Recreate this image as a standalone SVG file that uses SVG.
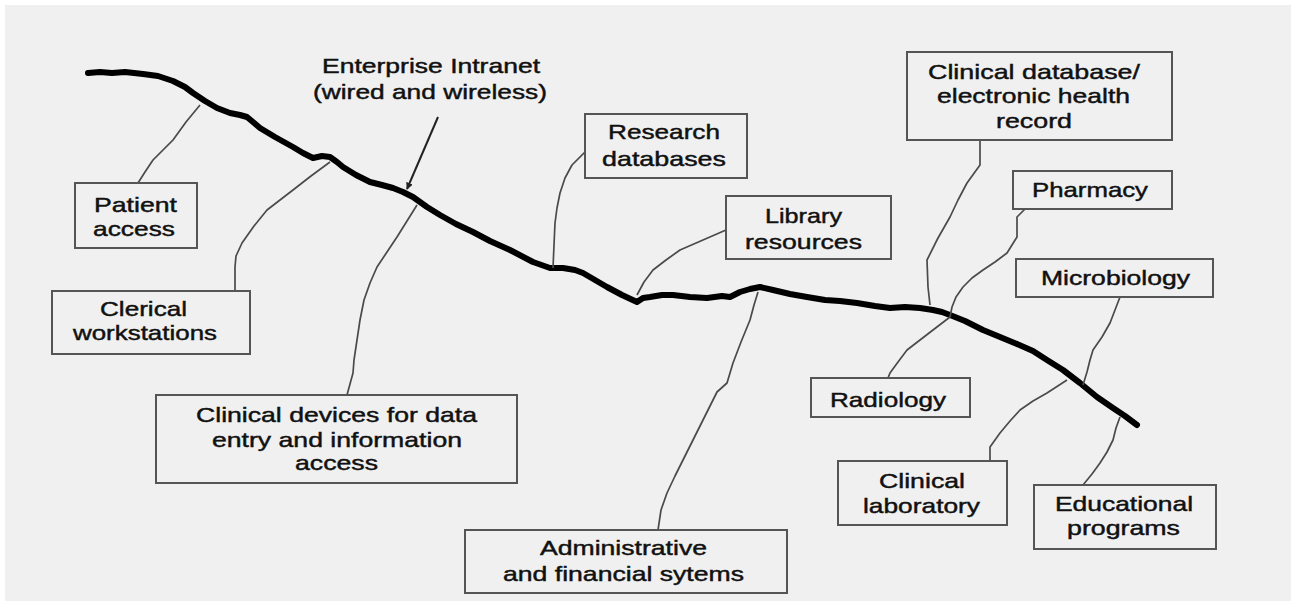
<svg xmlns="http://www.w3.org/2000/svg" width="1295" height="603" viewBox="0 0 1295 603">
  <defs>
    <style>
      .bg { fill: #f0f0f0; }
      .box { fill: #f0f0f0; stroke: #555; stroke-width: 2; }
      .lbl { font-family: "Liberation Sans", Arial, sans-serif; font-size: 21px; fill: #111; stroke: #111; stroke-width: 0.45; text-anchor: middle; }
      .backbone { fill: none; stroke: #000; stroke-width: 6; stroke-linejoin: round; stroke-linecap: round; }
      .link { fill: none; stroke: #4a4a4a; stroke-width: 1.7; stroke-linejoin: round; }
      .pointer { fill: none; stroke: #222; stroke-width: 2; }
    </style>
    <marker id="arrowhead" viewBox="0 0 10 10" refX="9" refY="5" markerWidth="7" markerHeight="7" orient="auto-start-reverse" markerUnits="userSpaceOnUse">
      <path d="M0,0 L10,5 L0,10 z" fill="#222"/>
    </marker>
  </defs>

  <rect width="1295" height="603" fill="#ffffff"/>
  <rect class="bg" x="5" y="5" width="1286" height="596"/>

  <!-- network backbone -->
  <g id="backbone">
    <polyline class="backbone" points="88,73 100,72 112,73 125,72 143,74 158,76 173,81 185,87 193,93 205,101 217,108 230,113 240,115 247,117 253,122 260,128 275,137 293,147 303,153 313,158 322,156 330,157 337,162 343,167 356,175 370,182 382,185 393,188 403,192 413,197 427,207 440,215 456,224 473,232 490,241 510,250 533,262 550,268 563,268 575,270 583,273 595,280 607,287 622,295 637,302 643,298 650,297 662,295 673,295 690,297 707,298 722,296 730,297 740,292 750,289 760,287 773,290 790,294 807,297 825,300 840,301 857,303 875,306 890,308 905,307 920,308 933,310 942,312 950,315 965,321 983,330 1000,337 1017,344 1033,351 1047,360 1063,370 1080,383 1097,397 1113,408 1125,416 1137,425"/>
  </g>

  <!-- connectors from backbone to each service -->
  <g id="connectors">
    <polyline class="link" points="200,105 186,122 173,140 163,150 153,160 145,172 138,183"/>
    <polyline class="link" points="330,162 311,176 293,190 280,200 267,210 254,226 242,243 236,256 235,267 235,291"/>
    <polyline class="link" points="417,205 407,221 397,237 387,252 377,267 370,283 364,300 360,320 357,340 354,360 353,373 350,384 347,395"/>
    <polyline class="link" points="585,152 572,165 565,178 560,193 557,208 555,223 554,245 553,268"/>
    <polyline class="link" points="726,230 703,240 680,250 666,260 653,270 644,282 637,295"/>
    <polyline class="link" points="758,292 754,305 750,320 741,342 733,363 727,383 717,392 710,406 703,420 693,440 683,460 675,476 667,493 661,510 658,530"/>
    <polyline class="link" points="980,140 980,165 967,183 958,200 950,217 938,238 927,260 928,287 930,305"/>
    <polyline class="link" points="1025,209 1017,217 1017,237 1007,253 995,262 983,270 972,278 963,287 956,297 952,307 950,317"/>
    <polyline class="link" points="950,317 933,330 920,340 907,350 898,362 890,373 888,378"/>
    <polyline class="link" points="1120,297 1115,310 1110,323 1102,337 1093,350 1090,360 1087,372 1083,385"/>
    <polyline class="link" points="1067,380 1047,393 1033,401 1020,410 1010,421 1000,433 990,447 990,461"/>
    <polyline class="link" points="1120,417 1116,428 1113,440 1107,452 1100,463 1092,474 1083,485"/>
    <line class="pointer" x1="438" y1="117" x2="407" y2="189" marker-end="url(#arrowhead)"/>
  </g>

  <!-- network label -->
  <g id="intranet-label">
    <text class="lbl" x="431" y="73" textLength="218" lengthAdjust="spacingAndGlyphs">Enterprise Intranet</text>
    <text class="lbl" x="430" y="99" textLength="234" lengthAdjust="spacingAndGlyphs">(wired and wireless)</text>
  </g>

  <g id="patient-access">
    <rect class="box" x="75" y="183" width="122" height="65"/>
    <text class="lbl" x="135.5" y="212" textLength="83" lengthAdjust="spacingAndGlyphs">Patient</text>
    <text class="lbl" x="134" y="236" textLength="82" lengthAdjust="spacingAndGlyphs">access</text>
  </g>

  <g id="clerical-workstations">
    <rect class="box" x="52" y="291" width="198" height="63"/>
    <text class="lbl" x="143.5" y="316" textLength="87" lengthAdjust="spacingAndGlyphs">Clerical</text>
    <text class="lbl" x="145" y="340" textLength="144" lengthAdjust="spacingAndGlyphs">workstations</text>
  </g>

  <g id="clinical-devices">
    <rect class="box" x="156" y="395" width="361" height="88"/>
    <text class="lbl" x="336.5" y="422" textLength="281" lengthAdjust="spacingAndGlyphs">Clinical devices for data</text>
    <text class="lbl" x="337" y="447" textLength="250" lengthAdjust="spacingAndGlyphs">entry and information</text>
    <text class="lbl" x="336.5" y="470" textLength="83" lengthAdjust="spacingAndGlyphs">access</text>
  </g>

  <g id="administrative-systems">
    <rect class="box" x="465" y="530" width="322" height="63"/>
    <text class="lbl" x="623.5" y="555" textLength="167" lengthAdjust="spacingAndGlyphs">Administrative</text>
    <text class="lbl" x="623.5" y="581" textLength="241" lengthAdjust="spacingAndGlyphs">and financial sytems</text>
  </g>

  <g id="research-databases">
    <rect class="box" x="585" y="114" width="162" height="64"/>
    <text class="lbl" x="664" y="139" textLength="112" lengthAdjust="spacingAndGlyphs">Research</text>
    <text class="lbl" x="664" y="166" textLength="124" lengthAdjust="spacingAndGlyphs">databases</text>
  </g>

  <g id="library-resources">
    <rect class="box" x="726" y="196" width="165" height="63"/>
    <text class="lbl" x="803.5" y="223" textLength="77" lengthAdjust="spacingAndGlyphs">Library</text>
    <text class="lbl" x="803.5" y="249" textLength="117" lengthAdjust="spacingAndGlyphs">resources</text>
  </g>

  <g id="clinical-database">
    <rect class="box" x="907" y="52" width="265" height="88"/>
    <text class="lbl" x="1034" y="79" textLength="212" lengthAdjust="spacingAndGlyphs">Clinical database/</text>
    <text class="lbl" x="1033.5" y="103" textLength="193" lengthAdjust="spacingAndGlyphs">electronic health</text>
    <text class="lbl" x="1034" y="128" textLength="76" lengthAdjust="spacingAndGlyphs">record</text>
  </g>

  <g id="pharmacy">
    <rect class="box" x="1013" y="171" width="159" height="38"/>
    <text class="lbl" x="1090" y="197" textLength="116" lengthAdjust="spacingAndGlyphs">Pharmacy</text>
  </g>

  <g id="microbiology">
    <rect class="box" x="1016" y="259" width="197" height="38"/>
    <text class="lbl" x="1115.5" y="285" textLength="149" lengthAdjust="spacingAndGlyphs">Microbiology</text>
  </g>

  <g id="radiology">
    <rect class="box" x="811" y="378" width="159" height="39"/>
    <text class="lbl" x="888" y="407" textLength="116" lengthAdjust="spacingAndGlyphs">Radiology</text>
  </g>

  <g id="clinical-laboratory">
    <rect class="box" x="838" y="461" width="169" height="64"/>
    <text class="lbl" x="922" y="488" textLength="86" lengthAdjust="spacingAndGlyphs">Clinical</text>
    <text class="lbl" x="921.5" y="513" textLength="117" lengthAdjust="spacingAndGlyphs">laboratory</text>
  </g>

  <g id="educational-programs">
    <rect class="box" x="1034" y="485" width="182" height="64"/>
    <text class="lbl" x="1124" y="511" textLength="138" lengthAdjust="spacingAndGlyphs">Educational</text>
    <text class="lbl" x="1123.5" y="535" textLength="113" lengthAdjust="spacingAndGlyphs">programs</text>
  </g>
</svg>
